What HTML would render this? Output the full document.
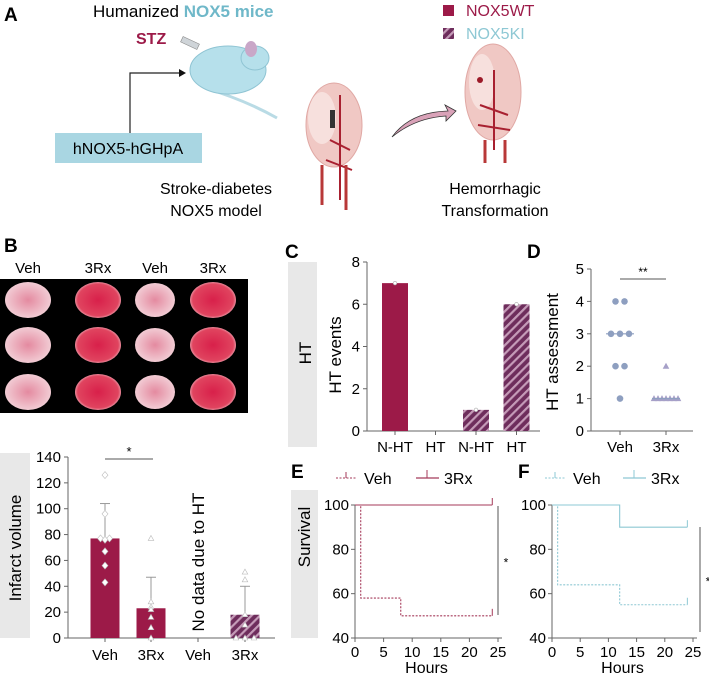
<!DOCTYPE html>
<html><head><meta charset="utf-8">
<style>
html,body{margin:0;padding:0;background:#fff;}
svg{display:block;font-family:"Liberation Sans Narrow","Liberation Sans",sans-serif;}
</style></head>
<body>
<svg id="fig" width="709" height="677" viewBox="0 0 709 677" xmlns="http://www.w3.org/2000/svg">
<defs>
<pattern id="hatch" patternUnits="userSpaceOnUse" width="6" height="6" patternTransform="rotate(45)">
<rect width="6" height="6" fill="#6e2d5c"/><rect width="2.2" height="6" fill="#c59bb8"/>
</pattern>
<radialGradient id="slice" cx="50%" cy="50%" r="55%"><stop offset="0" stop-color="#d8204a"/><stop offset="0.8" stop-color="#e0445f"/><stop offset="1" stop-color="#f2c4cc"/></radialGradient>
<radialGradient id="slicePale" cx="50%" cy="50%" r="55%"><stop offset="0" stop-color="#e48aa0"/><stop offset="1" stop-color="#f3d2d9"/></radialGradient>
</defs>

<!-- Panel A -->
<g>
<text x="4" y="21" font-size="19" font-weight="bold">A</text>
<text x="93" y="17" font-size="17">Humanized <tspan fill="#6fb8c9" font-weight="bold">NOX5 mice</tspan></text>
<text x="136" y="44" font-size="16" font-weight="bold" fill="#9c1a48">STZ</text>
<g><rect x="181" y="40" width="18" height="6" fill="#cfd4d8" stroke="#888" stroke-width="0.6" transform="rotate(25 190 43)"/></g>
<g>
<path d="M205 88 Q245 100 277 118" stroke="#b9dbe5" stroke-width="3" fill="none"/>
<ellipse cx="228" cy="70" rx="38" ry="24" fill="#b6e0eb" stroke="#8fc4d3"/>
<ellipse cx="255" cy="58" rx="14" ry="12" fill="#b6e0eb" stroke="#8fc4d3"/>
<ellipse cx="251" cy="49" rx="6" ry="8" fill="#c9a7c8"/>
</g>
<path d="M130 133 V73 H180" stroke="#222" stroke-width="1.2" fill="none"/>
<polygon points="186,73 179,69 179,77" fill="#111"/>
<rect x="55" y="133" width="147" height="30" fill="#a9d6e2"/>
<text x="128" y="154" font-size="16" text-anchor="middle">hNOX5-hGHpA</text>
<g>
<ellipse cx="334" cy="125" rx="28" ry="42" fill="#f0c8c4" stroke="#e0a8a4"/>
<ellipse cx="322" cy="118" rx="14" ry="26" fill="#f7e0dd"/>
<path d="M340 95 V200 M330 140 L350 150 M326 160 L352 170" stroke="#a82030" stroke-width="2" fill="none"/>
<path d="M322 165 V205 M346 165 V210" stroke="#b83838" stroke-width="3" fill="none"/>
<rect x="330" y="110" width="5" height="18" fill="#333"/>
</g>
<text x="216" y="194" font-size="16" text-anchor="middle">Stroke-diabetes</text>
<text x="216" y="216" font-size="16" text-anchor="middle">NOX5 model</text>
<path d="M392 137 Q410 112 448 111 L445 105 L456 111 L446 121 L446 116 Q415 118 392 137 Z" fill="#d9a2b8" stroke="#333" stroke-width="0.8"/>
<g>
<ellipse cx="493" cy="92" rx="28" ry="48" fill="#f0c8c4" stroke="#e0a8a4"/>
<ellipse cx="482" cy="82" rx="13" ry="28" fill="#f7e0dd"/>
<path d="M494 70 V150 M480 105 L508 115 M478 125 L510 130" stroke="#a82030" stroke-width="2" fill="none"/>
<path d="M485 140 V163 M505 140 V163" stroke="#b83838" stroke-width="3" fill="none"/>
<circle cx="480" cy="80" r="3" fill="#9c1a28"/>
</g>
<text x="495" y="194" font-size="16" text-anchor="middle">Hemorrhagic</text>
<text x="495" y="216" font-size="16" text-anchor="middle">Transformation</text>
<rect x="443" y="5" width="11" height="11" fill="#9c1a48"/>
<text x="466" y="16" font-size="16" fill="#9c1a48">NOX5WT</text>
<rect x="443" y="28" width="11" height="11" fill="url(#hatch)"/>
<text x="466" y="39" font-size="16" fill="#8ec8d4">NOX5KI</text>
</g>

<!-- Panel B image -->
<g>
<text x="4" y="252" font-size="19" font-weight="bold">B</text>
<text x="28" y="273" font-size="15" text-anchor="middle">Veh</text>
<text x="98" y="273" font-size="15" text-anchor="middle">3Rx</text>
<text x="155" y="273" font-size="15" text-anchor="middle">Veh</text>
<text x="213" y="273" font-size="15" text-anchor="middle">3Rx</text>
<rect x="0" y="279" width="248" height="134" fill="#000"/>
<g id="slices"></g>
</g>

<g id="charts"></g>
</svg>
<script>
const NS="http://www.w3.org/2000/svg";
// ---- data ----
const cCategories=["N-HT","HT","N-HT","HT"];
const cValues=[7,0,1,6];
const cTicks=[0,2,4,6,8];
const dGroups=["Veh","3Rx"];
const dVeh=[4,4,3,3,3,2,2,1];
const dRx=[2,1,1,1,1,1,1,1];
const dTicks=[0,1,2,3,4,5];
const bGroups=["Veh","3Rx","Veh","3Rx"];
const bMeans=[77,23,null,18];
const bSD=[27,24,null,22];
const bPtsVeh=[126,96,77,77,76,67,56,43];
const bPtsRx=[77,28,24,22,16,8,0];
const bPtsKI=[51,45,18,10,0,0,0];
const bTicks=[0,20,40,60,80,100,120,140];
const survTicksX=[0,5,10,15,20,25];
const survTicksY=[40,60,80,100];
const eVehT=[0,1,8,24];
const eVehS=[100,58,50,50];
const eRxT=[0,24];
const eRxS=[100,100];
const fVehT=[0,1,12,24];
const fVehS=[100,64,55,55];
const fRxT=[0,12,24];
const fRxS=[100,90,90];

const root=document.getElementById('charts');
function mk(tag,attrs,parent,txt){const e=document.createElementNS(NS,tag);for(const k in attrs)e.setAttribute(k,attrs[k]);if(txt!==undefined)e.textContent=txt;(parent||root).appendChild(e);return e;}

// slices
const sl=document.getElementById('slices');
const sx=[28,98,155,213], sy=[300,345,392];
for(let r=0;r<3;r++)for(let c=0;c<4;c++){
  const e=mk('ellipse',{cx:sx[c],cy:sy[r],rx:c==2?20:23,ry:c==2?17:18,fill:(c==0||c==2)?'url(#slicePale)':'url(#slice)'},sl);
  
  
}

// ---------- Panel C ----------
const C={x0:367,x1:540,y0:431,y1:262,max:8};
const cy=v=>C.y0-(v/C.max)*(C.y0-C.y1);
const cx=i=>395+i*40.5;
let g=mk('g',{});


let t=mk('text',{x:285,y:258,'font-size':19,'font-weight':'bold'},g,'C');

let band=mk('rect',{x:288,y:262,width:29,height:185,fill:'#e8e8e8'},g);

t=mk('text',{x:311,y:353,'font-size':17,'text-anchor':'middle',transform:'rotate(-90 311 353)'},g,'HT');

t=mk('text',{x:341,y:355,'font-size':17,'text-anchor':'middle',transform:'rotate(-90 341 355)'},g,'HT events');

mk('line',{x1:C.x0,y1:C.y1,x2:C.x0,y2:C.y0,stroke:'#666'},g);
mk('line',{x1:C.x0,y1:C.y0,x2:C.x1,y2:C.y0,stroke:'#666'},g);
cTicks.forEach(v=>{mk('line',{x1:C.x0-4,y1:cy(v),x2:C.x0,y2:cy(v),stroke:'#666'},g);
 const tt=mk('text',{x:C.x0-7,y:cy(v)+5,'font-size':15,'text-anchor':'end'},g,v);
 });
cValues.forEach((v,i)=>{
 if(v>0){const b=mk('rect',{x:cx(i)-13,y:cy(v),width:26,height:C.y0-cy(v),fill:i<2?'#9c1a48':'url(#hatch)'},g);
 
 mk('circle',{cx:cx(i),cy:cy(v),r:1.8,fill:'#fff',stroke:'#aaa','stroke-width':0.6},g);}
 mk('line',{x1:cx(i),y1:C.y0,x2:cx(i),y2:C.y0+4,stroke:'#666'},g);
 const tl=mk('text',{x:cx(i),y:452,'font-size':15,'text-anchor':'middle'},g,cCategories[i]);
 
});

// ---------- Panel D ----------
const D={x0:591,x1:693,y0:431,y1:269,max:5};
const dy=v=>D.y0-(v/D.max)*(D.y0-D.y1);
const dx=i=>620+i*46;
g=mk('g',{});


t=mk('text',{x:527,y:258,'font-size':19,'font-weight':'bold'},g,'D');

t=mk('text',{x:558,y:352,'font-size':17,'text-anchor':'middle',transform:'rotate(-90 558 352)'},g,'HT assessment');

mk('line',{x1:D.x0,y1:D.y1,x2:D.x0,y2:D.y0,stroke:'#666'},g);
mk('line',{x1:D.x0,y1:D.y0,x2:D.x1,y2:D.y0,stroke:'#666'},g);
dTicks.forEach(v=>{mk('line',{x1:D.x0-4,y1:dy(v),x2:D.x0,y2:dy(v),stroke:'#666'},g);
 const tt=mk('text',{x:D.x0-7,y:dy(v)+5,'font-size':15,'text-anchor':'end'},g,v);
 });
function spread(arr,center,draw){const counts={};arr.forEach(v=>counts[v]=(counts[v]||0)+1);const idx={};
 arr.forEach(v=>{idx[v]=(idx[v]||0);const n=counts[v];const off=(idx[v]-(n-1)/2)*(n>4?4:9);idx[v]++;draw(center+off,v);});}
spread(dVeh,dx(0),(x,v)=>{const p=mk('circle',{cx:x,cy:dy(v),r:3.3,fill:'#8e9fc0'},g);});
spread(dRx,dx(1),(x,v)=>{const p=mk('polygon',{points:`${x},${dy(v)-3.5} ${x-3.3},${dy(v)+2.5} ${x+3.3},${dy(v)+2.5}`,fill:'#a6a0c8'},g);});
function median(a){const s=[...a].sort((p,q)=>p-q);const m=s.length/2;return s.length%2?s[Math.floor(m)]:(s[m-1]+s[m])/2;}
[dVeh,dRx].forEach((a,i)=>mk('line',{x1:dx(i)-14,y1:dy(median(a)),x2:dx(i)+14,y2:dy(median(a)),stroke:'#8e9fc0','stroke-width':1.2},g));
mk('line',{x1:dx(0),y1:279,x2:dx(1),y2:279,stroke:'#555'},g);
mk('text',{x:(dx(0)+dx(1))/2,y:276,'font-size':12,'text-anchor':'middle'},g,'**');
dGroups.forEach((n,i)=>{mk('line',{x1:dx(i),y1:D.y0,x2:dx(i),y2:D.y0+4,stroke:'#666'},g);
 const tl=mk('text',{x:dx(i),y:452,'font-size':15,'text-anchor':'middle'},g,n);
 });

// ---------- Panel B bars ----------
const B={x0:68,x1:275,y0:638,y1:457,max:140};
const by=v=>B.y0-(v/B.max)*(B.y0-B.y1);
const bx=i=>[105,151,198,245][i];
g=mk('g',{});


band=mk('rect',{x:0,y:453,width:30,height:185,fill:'#e8e8e8'},g);

t=mk('text',{x:21,y:548,'font-size':17,'text-anchor':'middle',transform:'rotate(-90 21 548)'},g,'Infarct volume');

mk('line',{x1:B.x0,y1:B.y1,x2:B.x0,y2:B.y0,stroke:'#666'},g);
mk('line',{x1:B.x0,y1:B.y0,x2:B.x1,y2:B.y0,stroke:'#666'},g);
bTicks.forEach(v=>{mk('line',{x1:B.x0-4,y1:by(v),x2:B.x0,y2:by(v),stroke:'#666'},g);
 const tt=mk('text',{x:B.x0-7,y:by(v)+5,'font-size':15,'text-anchor':'end'},g,v);
 });
bMeans.forEach((m,i)=>{
 if(m!==null){
  mk('line',{x1:bx(i),y1:by(m+bSD[i]),x2:bx(i),y2:by(m),stroke:'#999'},g);
  mk('line',{x1:bx(i)-5,y1:by(m+bSD[i]),x2:bx(i)+5,y2:by(m+bSD[i]),stroke:'#999'},g);
  const b=mk('rect',{x:bx(i)-14.5,y:by(m),width:29,height:B.y0-by(m),fill:i==3?'url(#hatch)':'#9c1a48'},g);
  
 }
 mk('line',{x1:bx(i),y1:B.y0,x2:bx(i),y2:B.y0+4,stroke:'#666'},g);
 const tl=mk('text',{x:bx(i),y:660,'font-size':15,'text-anchor':'middle'},g,bGroups[i]);
 
});
spread(bPtsVeh.map(v=>Math.round(v)),bx(0),(x,v)=>{const p=mk('polygon',{points:`${x},${by(v)-3.5} ${x+3},${by(v)} ${x},${by(v)+3.5} ${x-3},${by(v)}`,fill:'#fff',stroke:'#bbb','stroke-width':0.6},g);});
spread(bPtsRx,bx(1),(x,v)=>{const p=mk('polygon',{points:`${x},${by(v)-3} ${x-2.8},${by(v)+2} ${x+2.8},${by(v)+2}`,fill:'#fff',stroke:'#bbb','stroke-width':0.6},g);});
spread(bPtsKI,bx(3),(x,v)=>{const p=mk('polygon',{points:`${x},${by(v)-3} ${x-2.8},${by(v)+2} ${x+2.8},${by(v)+2}`,fill:'#fff',stroke:'#bbb','stroke-width':0.6},g);});
mk('line',{x1:105,y1:459,x2:153,y2:459,stroke:'#555'},g);
mk('text',{x:129,y:456,'font-size':13,'text-anchor':'middle'},g,'*');
t=mk('text',{x:204,y:562,'font-size':17,'text-anchor':'middle',transform:'rotate(-90 204 562)'},g,'No data due to HT');


// ---------- Survival panels ----------
function survival(o){
 const sy=v=>638-(v-40)/60*(638-505);
 const sxf=h=>o.x0+h/25*(o.x1-o.x0);
 const gg=mk('g',{});
 
 
 let tt=mk('text',{x:o.lx,y:478,'font-size':19,'font-weight':'bold'},gg,o.label);
 
 // legend
 mk('line',{x1:o.leg[0],y1:478,x2:o.leg[0]+21,y2:478,stroke:o.col,'stroke-dasharray':'2,1.5'},gg);
 mk('line',{x1:o.leg[0]+10,y1:472,x2:o.leg[0]+10,y2:478,stroke:o.col},gg);
 tt=mk('text',{x:o.leg[0]+28,y:484,'font-size':16},gg,'Veh');
 
 mk('line',{x1:o.leg[1],y1:478,x2:o.leg[1]+23,y2:478,stroke:o.col,'stroke-width':1.3},gg);
 mk('line',{x1:o.leg[1]+11,y1:470,x2:o.leg[1]+11,y2:478,stroke:o.col},gg);
 tt=mk('text',{x:o.leg[1]+28,y:484,'font-size':16},gg,'3Rx');
 
 mk('line',{x1:o.x0,y1:505,x2:o.x0,y2:638,stroke:'#666'},gg);
 mk('line',{x1:o.x0,y1:638,x2:o.x1+4,y2:638,stroke:'#666'},gg);
 survTicksY.forEach(v=>{mk('line',{x1:o.x0-4,y1:sy(v),x2:o.x0,y2:sy(v),stroke:'#666'},gg);
  const q=mk('text',{x:o.x0-6,y:sy(v)+5,'font-size':15,'text-anchor':'end'},gg,v);
  });
 survTicksX.forEach(v=>{mk('line',{x1:sxf(v),y1:638,x2:sxf(v),y2:642,stroke:'#666'},gg);
  const q=mk('text',{x:sxf(v),y:657,'font-size':15,'text-anchor':'middle'},gg,v);
  });
 tt=mk('text',{x:(o.x0+o.x1)/2,y:673,'font-size':16,'text-anchor':'middle'},gg,'Hours');
 
 function step(T,S,dash,nm){let d=`M${sxf(T[0])},${sy(S[0])}`;
  for(let i=1;i<T.length;i++){d+=` H${sxf(T[i])} V${sy(S[i])}`;}
  const p=mk('path',{d:d,fill:'none',stroke:o.col,'stroke-width':1.1,'stroke-dasharray':dash},gg);
  
  const L=T.length-1;mk('line',{x1:sxf(T[L]),y1:sy(S[L]),x2:sxf(T[L]),y2:sy(S[L])-7,stroke:o.col},gg);}
 step(o.vt,o.vs,'2,1.5','survival-veh');
 step(o.rt,o.rs,'none','survival-3rx');
 mk('line',{x1:o.sig[0],y1:o.sig[1],x2:o.sig[0],y2:o.sig[2],stroke:'#555'},gg);
 mk('text',{x:o.sig[0]+8,y:(o.sig[1]+o.sig[2])/2+6,'font-size':12,'text-anchor':'middle'},gg,'*');
}
g=mk('g',{});
band=mk('rect',{x:291,y:490,width:27,height:148,fill:'#e8e8e8'},g);

t=mk('text',{x:310,y:537,'font-size':17,'text-anchor':'middle',transform:'rotate(-90 310 537)'},g,'Survival');

survival({name:'panel-e-chart',label:'E',lx:291,leg:[336,416],col:'#a53a5a',x0:355,x1:498,vt:eVehT,vs:eVehS,rt:eRxT,rs:eRxS,sig:[498,506,615]});
survival({name:'panel-f-chart',label:'F',lx:518,leg:[545,623],col:'#8ec8d4',x0:552,x1:693,vt:fVehT,vs:fVehS,rt:fRxT,rs:fRxS,sig:[700,527,632]});
</script>
</body></html>
